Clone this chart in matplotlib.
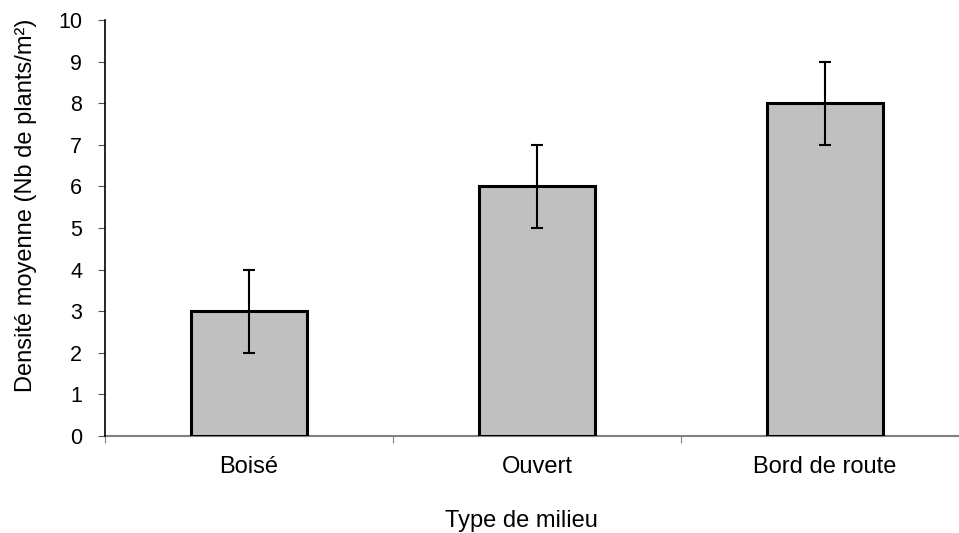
import numpy as np
import matplotlib.pyplot as plt

# Données
milieux = ['Boisé', 'Ouvert', 'Bord de route']
densite = [3, 6, 8]
erreur = [1, 1, 1]

plt.rcParams['font.family'] = ['Liberation Sans', 'DejaVu Sans']

W, H = 959, 533
fig = plt.figure(figsize=(W / 100, H / 100), dpi=100)
# axe : x de 105 à 969 px, y de 20 à 436 px
ax = fig.add_axes([105 / W, 1 - 436 / H, 864 / W, 416 / H])

x = np.arange(len(milieux))
ax.bar(x, densite, width=0.4, color='#c0c0c0', edgecolor='black', linewidth=2.2, zorder=2)
ax.errorbar(x, densite, yerr=erreur, fmt='none', ecolor='black', elinewidth=1.5,
            capsize=4, capthick=1.5, zorder=3)

ax.set_xlim(-0.5, 2.5)
ax.set_ylim(0, 10)
ax.set_yticks(range(0, 11))

# séparateurs de catégories
ax.set_xticks([-0.5, 0.5, 1.5, 2.5])
ax.set_xticklabels([])
ax.tick_params(axis='x', length=5, color='#808080', direction='out')
ax.tick_params(axis='y', length=5, color='#505050', labelsize=15.5, pad=11.5)

# étiquettes des catégories
for xi, nom in zip(x, milieux):
    ax.text(xi, -(473 - 436) / 416, nom, transform=ax.get_xaxis_transform(),
            ha='center', va='baseline', fontsize=17)

for s in ['top', 'right']:
    ax.spines[s].set_visible(False)
ax.spines['bottom'].set_color('#808080')
ax.spines['bottom'].set_linewidth(1.5)
ax.spines['bottom'].set_zorder(1)
ax.spines['left'].set_color('black')
ax.spines['left'].set_linewidth(1.2)

fig.text(521 / W, 1 - 527 / H, 'Type de milieu', ha='center', va='baseline', fontsize=17)
fig.text(32 / W, 1 - 205 / H, 'Densité moyenne (Nb de plants/m²)', rotation=90,
         rotation_mode='anchor', ha='center', va='baseline', fontsize=17)

fig.savefig('out.png', dpi=100)
